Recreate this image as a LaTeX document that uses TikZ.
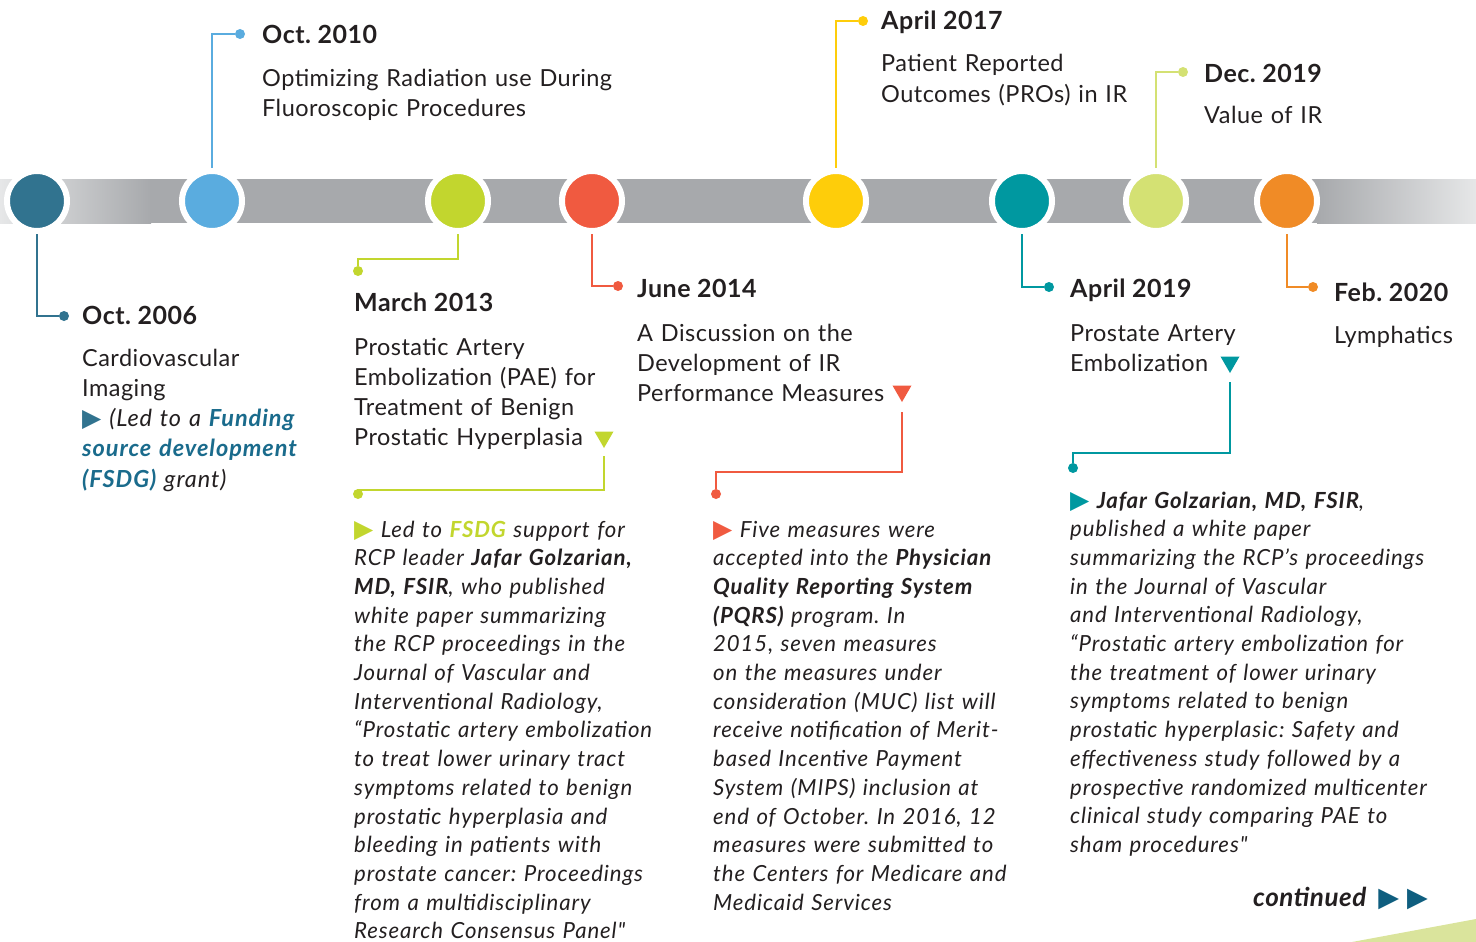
\documentclass[tikz,border=0pt]{standalone}
\usepackage{fontspec}
\setmainfont{Lato}[LetterSpace=2]
\newfontfamily\notefont{Lato}[LetterSpace=4]
\newfontfamily\symfont{DejaVu Sans}
\usepackage{tikz}
\usetikzlibrary{shapes.geometric,backgrounds}
\frenchspacing

\definecolor{ink}{HTML}{231F20}
\definecolor{bargray}{HTML}{A7A9AC}
\definecolor{barlight}{HTML}{E6E7E8}
\definecolor{steel}{HTML}{31738F}
\definecolor{sky}{HTML}{5AACDF}
\definecolor{lime}{HTML}{C2D62E}
\definecolor{coral}{HTML}{F05A40}
\definecolor{sun}{HTML}{FECD0A}
\definecolor{teal}{HTML}{0098A0}
\definecolor{pale}{HTML}{D4E173}
\definecolor{amber}{HTML}{F08B26}
\definecolor{fund}{HTML}{1A6B8C}
\definecolor{navy}{HTML}{0F5E7F}
\definecolor{wedge}{HTML}{DAE49C}

\newcommand\tri[2][25]{{\fontsize{#1}{28}\symfont\textcolor{#2}{▶}}}

\begin{document}
\begin{tikzpicture}[x=1pt,y=-1pt,
    stop/.style={circle,draw=white,line width=6pt,minimum size=60pt,inner sep=0pt},
    dot/.style={circle,inner sep=0pt,minimum size=10pt},
    down/.style={regular polygon,regular polygon sides=3,shape border rotate=180,
      inner sep=0pt,minimum size=22pt},
    date/.style={anchor=base west,inner sep=0pt,text=ink,font=\fontsize{25}{29}\selectfont\bfseries},
    desc/.style={anchor=base west,inner sep=0pt,text=ink,align=left,text width=400pt,
      font=\fontsize{23.5}{30.3}\selectfont},
    note/.style={anchor=base west,inner sep=0pt,text=ink,align=left,text width=420pt,
      font=\fontsize{22.2}{28.7}\notefont\itshape},
    link/.style={line width=2.5pt}]
    \useasboundingbox (0,0) rectangle (1476,942);

    % Stops on the time line
    \node[stop,fill=steel] (s1) at (37,201) {};
    \node[stop,fill=sky]   (s2) at (212,201) {};
    \node[stop,fill=lime]  (s3) at (458,201) {};
    \node[stop,fill=coral] (s4) at (592,201) {};
    \node[stop,fill=sun]   (s5) at (836,201) {};
    \node[stop,fill=teal]  (s6) at (1022,201) {};
    \node[stop,fill=pale]  (s7) at (1156,201) {};
    \node[stop,fill=amber] (s8) at (1287,201) {};

    % Dots at the ends of the leaders
    \node[dot,fill=steel] (d1) at (64,316) {};
    \node[dot,fill=sky]   (d2) at (240,34) {};
    \node[dot,fill=lime]  (d3) at (358,271) {};
    \node[dot,fill=coral] (d4) at (618,286) {};
    \node[dot,fill=sun]   (d5) at (863,21) {};
    \node[dot,fill=teal]  (d6) at (1049,287) {};
    \node[dot,fill=pale]  (d7) at (1183,72) {};
    \node[dot,fill=amber] (d8) at (1313,287) {};

    % Dates and titles
    \node[date] (h1) at (82,324) {Oct. 2006};
    \node[desc] (b1) at (82,366) {Cardiovascular\\Imaging\\
      \tri{steel} {\notefont\itshape (Led to a {\bfseries\color{fund}Funding}\\
      {\bfseries\color{fund}source development}\\
      {\bfseries\color{fund}(FSDG)} grant)}};
    \node[date] (h2) at (262,44) {Oct. 2010};
    \node[desc] (b2) at (262,86) {Optimizing Radiation use During\\Fluoroscopic Procedures};
    \node[date] (h3) at (354,311) {March 2013};
    \node[desc] (b3) at (354,355) {Prostatic Artery\\Embolization (PAE) for\\
      Treatment of Benign\\Prostatic Hyperplasia};
    \node[date] (h4) at (637,297) {June 2014};
    \node[desc] (b4) at (637,341) {A Discussion on the\\Development of IR\\Performance Measures};
    \node[date] (h5) at (881,30) {April 2017};
    \node[desc] (b5) at (881,72) {Patient Reported\\Outcomes (PROs) in IR};
    \node[date] (h6) at (1070,297) {April 2019};
    \node[desc] (b6) at (1070,341) {Prostate Artery\\Embolization};
    \node[date] (h7) at (1204,82) {Dec. 2019};
    \node[desc] (b7) at (1204,124) {Value of IR};
    \node[date] (h8) at (1334,301) {Feb. 2020};
    \node[desc] (b8) at (1334,343) {Lymphatics};

    % Pointers down to the notes
    \node[down,fill=lime]  (t3) at (604,437) {};
    \node[down,fill=coral] (t4) at (902,391) {};
    \node[down,fill=teal]  (t6) at (1230,362) {};
    \node[dot,fill=lime]  (e3) at (358,494) {};
    \node[dot,fill=coral] (e4) at (716,494) {};
    \node[dot,fill=teal]  (e6) at (1073,468) {};

    % Notes
    \node[note] (n3) at (354,537) {\tri{lime} Led to {\bfseries\color{lime}FSDG} support for\\
      RCP leader {\bfseries Jafar Golzarian,}\\
      {\bfseries MD, FSIR}, who published\\
      white paper summarizing\\
      the RCP proceedings in the\\
      Journal of Vascular and\\
      Interventional Radiology,\\
      “Prostatic artery embolization\\
      to treat lower urinary tract\\
      symptoms related to benign\\
      prostatic hyperplasia and\\
      bleeding in patients with\\
      prostate cancer: Proceedings\\
      from a multidisciplinary\\
      Research Consensus Panel"};
    \node[note] (n4) at (713,537) {\tri{coral} Five measures were\\
      accepted into the {\bfseries Physician}\\
      {\bfseries Quality Reporting System}\\
      {\bfseries (PQRS)} program. In\\
      2015, seven measures\\
      on the measures under\\
      consideration (MUC) list will\\
      receive notification of Merit-\\
      based Incentive Payment\\
      System (MIPS) inclusion at\\
      end of October. In 2016, 12\\
      measures were submitted to\\
      the Centers for Medicare and\\
      Medicaid Services};
    \node[note] (n6) at (1070,508) {\tri{teal} {\bfseries Jafar Golzarian, MD, FSIR},\\
      published a white paper\\
      summarizing the RCP’s proceedings\\
      in the Journal of Vascular\\
      and Interventional Radiology,\\
      “Prostatic artery embolization for\\
      the treatment of lower urinary\\
      symptoms related to benign\\
      prostatic hyperplasic: Safety and\\
      effectiveness study followed by a\\
      prospective randomized multicenter\\
      clinical study comparing PAE to\\
      sham procedures"};

    \node[anchor=base west,inner sep=0pt,text=ink,font=\fontsize{26}{30}\selectfont\bfseries\itshape]
      (more) at (1253,906) {continued\hspace{12pt}\tri[27]{navy}\hspace{8pt}\tri[27]{navy}};

    % Corner wedge
    \fill[wedge] (1352,942) -- (1476,919) -- (1476,942) -- cycle;

    \begin{scope}[on background layer]
      % Bar
      \fill[left color=barlight,right color=bargray] (0,179) rectangle (151,223);
      \fill[bargray] (150,179) rectangle (1318,223);
      \fill[left color=bargray,right color=barlight] (1317,179) rectangle (1476,223);

      % Leaders
      \draw[link,steel] (s1.center) |- (d1);
      \draw[link,sky]   (s2.center) |- (d2);
      \draw[link,lime]  (s3.center) |- ([yshift=12pt]d3.center) -- (d3);
      \draw[link,coral] (s4.center) |- (d4);
      \draw[link,sun]   (s5.center) |- (d5);
      \draw[link,teal]  (s6.center) |- (d6);
      \draw[link,pale]  (s7.center) |- (d7);
      \draw[link,amber] (s8.center) |- (d8);

      \draw[link,lime,shorten <=19pt]  (t3.center) |- ([yshift=4pt]e3.center) -- (e3);
      \draw[link,coral,shorten <=21pt] (t4.center) |- ([yshift=22pt]e4.center) -- (e4);
      \draw[link,teal,shorten <=20pt]  (t6.center) |- ([yshift=15pt]e6.center) -- (e6);
    \end{scope}
\end{tikzpicture}
\end{document}
